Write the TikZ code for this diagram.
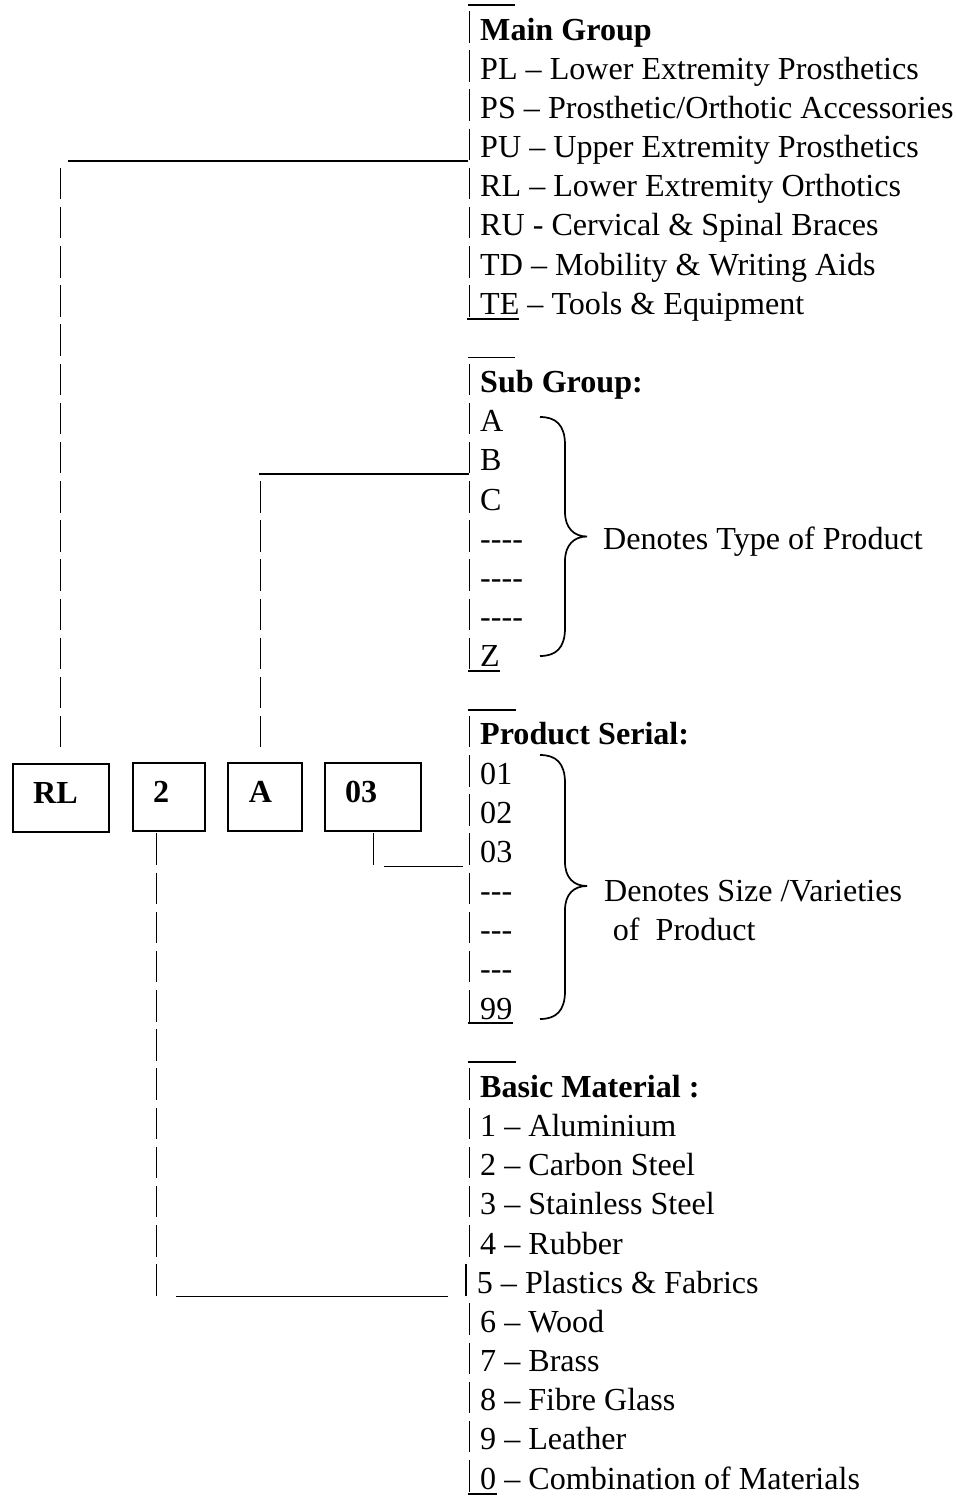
\documentclass[tikz,border=0pt]{standalone}
\usepackage{fontspec}
\setmainfont{Liberation Serif}
\begin{document}
\begin{tikzpicture}[x=1pt,y=-1pt,
  row/.style={anchor=base west, inner sep=0pt, font=\fontsize{32.1}{38}\selectfont},
  bar/.style={line width=1.5pt, dash pattern=on 31.5pt off 7.66pt},
  rule/.style={line width=1.7pt},
  codebox/.style={draw, line width=1.9pt, anchor=north west, inner xsep=20.5pt, inner ysep=0pt,
    align=left, text height=20pt, text depth=7.4pt, minimum height=68pt,
    font=\fontsize{32.1}{38}\selectfont\bfseries},
  bracepath/.style={line width=1.7pt}]
\useasboundingbox (0,0) rectangle (956,1499);

% ---- list texts ----
\foreach \k/\t in {
  0/{\textbf{Main Group}},
  1/{PL – Lower Extremity Prosthetics},
  2/{PS – Prosthetic/Orthotic Accessories},
  3/{PU – Upper Extremity Prosthetics},
  4/{RL – Lower Extremity Orthotics},
  5/{RU - Cervical \& Spinal Braces},
  6/{TD – Mobility \& Writing Aids},
  7/{TE – Tools \& Equipment},
  9/{\textbf{Sub Group:}},
  10/{A}, 11/{B}, 12/{C},
  13/{-{}-{}-{}-}, 14/{-{}-{}-{}-}, 15/{-{}-{}-{}-},
  16/{Z},
  18/{\textbf{Product Serial:}},
  19/{01}, 20/{02}, 21/{03},
  22/{-{}-{}-}, 23/{-{}-{}-}, 24/{-{}-{}-},
  25/{99},
  27/{\textbf{Basic Material :}},
  28/{1 – Aluminium}, 29/{2 – Carbon Steel}, 30/{3 – Stainless Steel},
  31/{4 – Rubber}, 33/{6 – Wood}, 34/{7 – Brass}, 35/{8 – Fibre Glass},
  36/{9 – Leather}, 37/{0 – Combination of Materials}}
  \node[row] (r\k) at (480,{40.1+39.16*\k}) {\t};
\node[row] (r32) at (476.7,1293.22) {5 – Plastics \& Fabrics};

% ---- brace labels ----
\node[row] (d1) at (603,549.18) {Denotes Type of Product};
\node[row] (d2) at (604,901.62) {Denotes Size /Varieties};
\node[row] (d3) at (612.7,940.78) {of~~Product};

% ---- code boxes ----
\node[codebox, minimum width=96pt, text width=55pt] (rl) at (11.7,762.7) {RL};
\node[codebox, minimum width=72.3pt, text width=31.3pt] (two) at (131.7,761.7) {2};
\node[codebox, minimum width=73.4pt, text width=32.4pt] (a) at (227.3,761.7) {A};
\node[codebox, minimum width=96.6pt, text width=55.6pt] (ser) at (323.7,761.7) {03};

% ---- right-hand bars ----
\coordinate (mgT) at (469.5,11.1);    \coordinate (mgB) at (469.5,316.72);
\coordinate (sgT) at (469.5,363.54);  \coordinate (sgB) at (469.5,669.16);
\coordinate (psT) at (469.5,715.98);  \coordinate (psB) at (469.5,1021.6);
\coordinate (bmT) at (469.5,1068.42); \coordinate (bmM) at (469.5,1256.56);
\coordinate (b5T) at (466,1264.22);   \coordinate (b5B) at (466,1295.72);
\coordinate (bmN) at (469.5,1303.38); \coordinate (bmB) at (469.5,1491.52);
\draw[bar] (mgT) -- (mgB);
\draw[bar] (sgT) -- (sgB);
\draw[bar] (psT) -- (psB);
\draw[bar] (bmT) -- (bmM);
\draw[bar] (b5T) -- (b5B);
\draw[bar] (bmN) -- (bmB);

% ---- left-hand connectors ----
\coordinate (rlT) at (60.7,167.74);  \coordinate (rlB) at (60.7,747.48);
\coordinate (aT) at (260.7,481.02);  \coordinate (aB) at (260.7,747.48);
\coordinate (twT) at (156.7,833.46); \coordinate (twB) at (156.7,1295.72);
\coordinate (seT) at (373.7,833.46); \coordinate (seB) at (373.7,864.96);
\draw[bar] (rlT) -- (rlB);
\draw[bar] (aT) -- (aB);
\draw[bar] (twT) -- (twB);
\draw[bar] (seT) -- (seB);

\coordinate (puL) at (68,161);     \coordinate (puR) at (468,161);
\coordinate (bL) at (259.3,474.3); \coordinate (bR) at (468.7,474.3);
\coordinate (sL) at (384,866.5);   \coordinate (sR) at (463,866.5);
\coordinate (fL) at (176,1296.5);  \coordinate (fR) at (447.7,1296.5);
\draw[rule] (puL) -- (puR);
\draw[rule] (bL) -- (bR);
\draw[rule] (sL) -- (sR);
\draw[rule] (fL) -- (fR);

% ---- over / under lines ----
\draw[rule] (468.3,5) -- (515,5);
\draw[rule] (466.5,319) -- (519,319);
\draw[rule] (468,357.5) -- (515,357.5);
\draw[rule] (468,671) -- (500,671);
\draw[rule] (468,710) -- (516,710);
\draw[rule] (468,1023.3) -- (512.7,1023.3);
\draw[rule] (468,1062) -- (516,1062);
\draw[rule] (468,1494) -- (497,1494);

% ---- braces ----
\draw[bracepath] (540,417) .. controls (556,417) and (565,425) .. (565,445)
  -- (565,512) .. controls (565,528) and (574,536.5) .. (587,536.5)
  .. controls (574,536.5) and (565,545) .. (565,561)
  -- (565,628) .. controls (565,648) and (556,656) .. (540,656);
\draw[bracepath] (540,755) .. controls (556,755) and (565,763) .. (565,783)
  -- (565,862) .. controls (565,878) and (574,886) .. (587,886)
  .. controls (574,886) and (565,894) .. (565,910)
  -- (565,991) .. controls (565,1011) and (556,1019) .. (540,1019);
\end{tikzpicture}
\end{document}
